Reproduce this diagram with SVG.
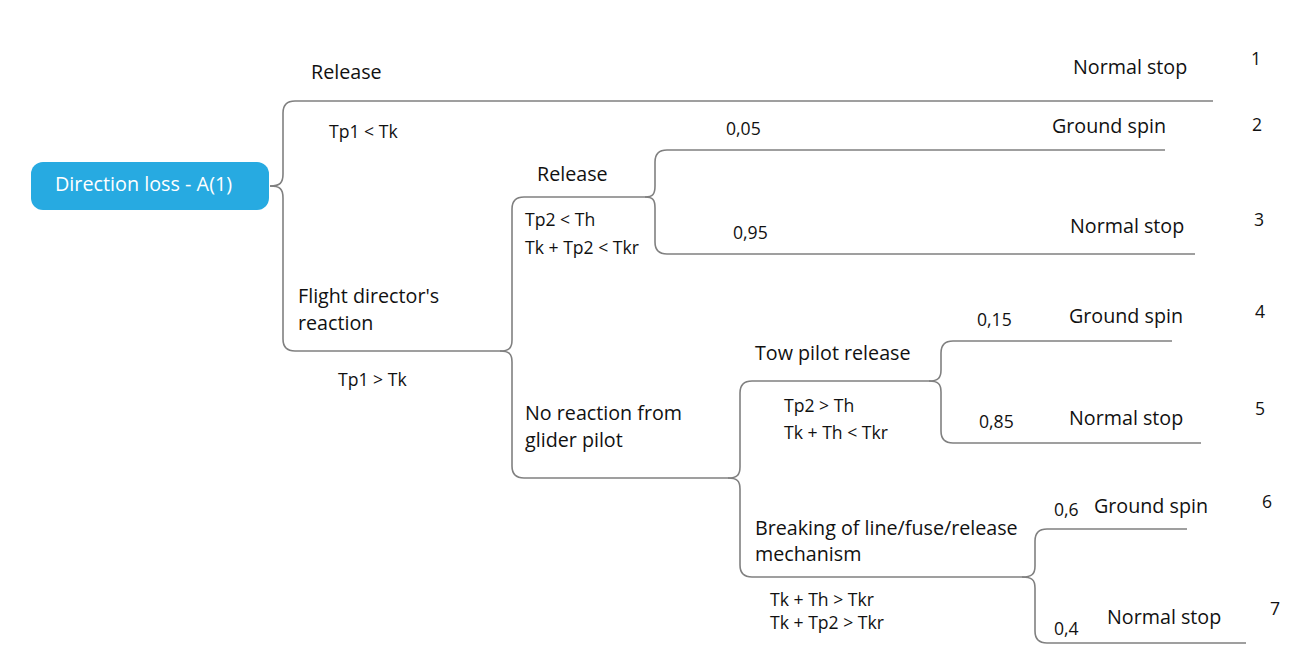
<svg xmlns="http://www.w3.org/2000/svg" width="1303" height="661" viewBox="0 0 1303 661">
<style>
.t{font-family:"Open Sans","DejaVu Sans",sans-serif;font-size:19.7px;fill:#111}
.s{font-family:"Open Sans","DejaVu Sans",sans-serif;font-size:17.6px;fill:#111}
.c{fill:none;stroke:#808080;stroke-width:1.6}
</style>
<rect width="1303" height="661" fill="#fff"/>
<g id="connectors">
<path class="c" d="M270,186 C280,186 283,183 283,174 V113 Q283,101 295,101 H1213"/>
<path class="c" d="M270,186 C280,186 283,189 283,198 V339 Q283,351 295,351 H500"/>
<path class="c" d="M500,351 C509,351 512,348 512,340 V209 Q512,197 524,197 H645"/>
<path class="c" d="M500,351 C509,351 512,354 512,362 V466 Q512,478 524,478 H728"/>
<path class="c" d="M645,197 C653,197 655,194 655,186 V162 Q655,150 667,150 H1165"/>
<path class="c" d="M645,197 C653,197 655,200 655,208 V242 Q655,254 667,254 H1195"/>
<path class="c" d="M728,478 C737,478 740,475 740,467 V393 Q740,381 752,381 H929"/>
<path class="c" d="M728,478 C737,478 740,481 740,489 V565 Q740,577 752,577 H1022"/>
<path class="c" d="M929,381 C938,381 941,378 941,370 V353 Q941,341 953,341 H1172"/>
<path class="c" d="M929,381 C938,381 941,384 941,392 V431 Q941,443 953,443 H1201"/>
<path class="c" d="M1022,577 C1032,577 1035,574 1035,566 V541 Q1035,529 1047,529 H1187"/>
<path class="c" d="M1022,577 C1032,577 1035,580 1035,588 V631 Q1035,643 1047,643 H1246"/>
</g>
<g id="root">
<rect x="31" y="162" width="238" height="48" rx="12" fill="#27aae1"/>
<text x="55" y="191" class="t" style="fill:#fff;font-size:19.8px">Direction loss - A(1)</text>
</g>
<g id="n-release1"><text x="311" y="79" class="t">Release</text><text x="329" y="138" class="s">Tp1 &lt; Tk</text></g>
<g id="n-flight"><text x="298" y="303" class="t">Flight director's</text><text x="298" y="330" class="t">reaction</text><text x="338" y="386" class="s">Tp1 &gt; Tk</text></g>
<g id="n-release2"><text x="537" y="181" class="t">Release</text><text x="525" y="226" class="s">Tp2 &lt; Th</text><text x="525" y="254" class="s">Tk + Tp2 &lt; Tkr</text></g>
<g id="n-noreaction"><text x="525" y="420" class="t">No reaction from</text><text x="525" y="447" class="t">glider pilot</text></g>
<g id="n-tow"><text x="755" y="360" class="t">Tow pilot release</text><text x="784" y="412" class="s">Tp2 &gt; Th</text><text x="784" y="439" class="s">Tk + Th &lt; Tkr</text></g>
<g id="n-breaking"><text x="755" y="535" class="t">Breaking of line/fuse/release</text><text x="755" y="561" class="t">mechanism</text><text x="770" y="606" class="s">Tk + Th &gt; Tkr</text><text x="770" y="629" class="s">Tk + Tp2 &gt; Tkr</text></g>
<g id="o1"><text x="1073" y="74" class="t">Normal stop</text><text x="1251" y="65" class="s">1</text></g>
<g id="o2"><text x="726" y="135" class="s">0,05</text><text x="1052" y="133" class="t">Ground spin</text><text x="1252" y="131" class="s">2</text></g>
<g id="o3"><text x="733" y="239" class="s">0,95</text><text x="1070" y="233" class="t">Normal stop</text><text x="1254" y="226" class="s">3</text></g>
<g id="o4"><text x="977" y="326" class="s">0,15</text><text x="1069" y="323" class="t">Ground spin</text><text x="1255" y="318" class="s">4</text></g>
<g id="o5"><text x="979" y="428" class="s">0,85</text><text x="1069" y="425" class="t">Normal stop</text><text x="1255" y="415" class="s">5</text></g>
<g id="o6"><text x="1054" y="516" class="s">0,6</text><text x="1094" y="513" class="t">Ground spin</text><text x="1262" y="508" class="s">6</text></g>
<g id="o7"><text x="1054" y="635" class="s">0,4</text><text x="1107" y="624" class="t">Normal stop</text><text x="1270" y="615" class="s">7</text></g>
</svg>
